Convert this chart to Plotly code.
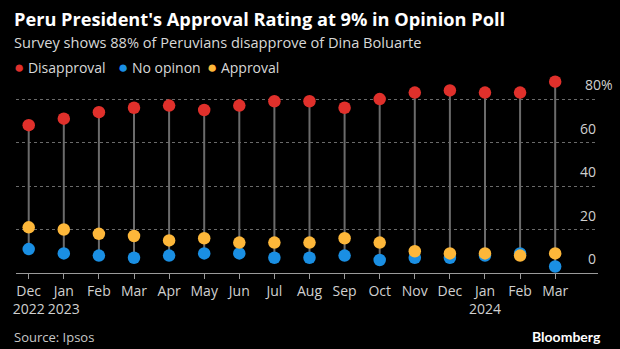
import plotly.graph_objects as go

months = ["Dec<br>2022", "Jan<br>2023", "Feb", "Mar", "Apr", "May", "Jun", "Jul", "Aug",
          "Sep", "Oct", "Nov", "Dec", "Jan<br>2024", "Feb", "Mar"]
disapproval = [68, 71, 74, 76, 77, 75, 77, 79, 79, 76, 80, 83, 84, 83, 83, 88]
no_opinion = [11, 9, 8, 7, 8, 9, 9, 7, 7, 8, 6, 7, 7, 8, 9, 3]
approval = [21, 20, 18, 17, 15, 16, 14, 14, 14, 16, 14, 10, 9, 9, 8, 9]
y_ticks = [0, 20, 40, 60, 80]
y_tick_text = ["0", "20", "40", "60", "80%"]

RED = "#e0302b"
BLUE = "#1a8fe3"
YELLOW = "#fdb73a"
FONT = "Open Sans"
W, H = 620, 349

x = list(range(len(months)))

# stems from lowest dot to highest dot
sx, sy = [], []
for i in x:
    vals = [disapproval[i], no_opinion[i], approval[i]]
    sx += [i, i, None]
    sy += [min(vals), max(vals), None]

series = [("Disapproval", disapproval, RED), ("No opinon", no_opinion, BLUE),
          ("Approval", approval, YELLOW)]

fig = go.Figure()
fig.add_trace(go.Scatter(x=sx, y=sy, mode="lines", line=dict(color="#6b6b6b", width=2),
                         showlegend=False, hoverinfo="skip", cliponaxis=False))
for name, vals, col in series:
    fig.add_trace(go.Scatter(x=x, y=vals, mode="markers", name=name,
                             marker=dict(color=col, size=12.5, line=dict(width=0)),
                             showlegend=False, cliponaxis=False))

ann = []
# y tick labels (right side, above gridlines)
for v, t in zip(y_ticks, y_tick_text):
    pct = "%" in t
    ann.append(dict(x=1, xref="paper", y=v, yref="y", text=t, showarrow=False,
                    xanchor="left" if pct else "right", xshift=-15 if pct else 0,
                    yanchor="bottom", yshift=3,
                    font=dict(family=FONT, size=14, color="#d0d0d0")))

ML, MR, MT, MB = 16, 22, 73, 76
PW, PH = W - ML - MR, H - MT - MB

def px(px_x, px_y, text, size, color, anchor="left", family=FONT):
    return dict(x=(px_x - ML) / PW, y=1 - (px_y - MT) / PH, xref="paper", yref="paper",
                text=text, showarrow=False, xanchor=anchor, yanchor="middle",
                font=dict(family=family, size=size, color=color))

ann.append(px(12, 19, "<b>Peru President's Approval Rating at 9% in Opinion Poll</b>", 18.2,
              "#ffffff"))
ann.append(px(12, 42, "Survey shows 88% of Peruvians disapprove of Dina Boluarte", 14.6,
              "#d8d8d8"))
leg_x = [12, 116, 205]
for (name, vals, col), lx in zip(series, leg_x):
    ann.append(px(lx, 66, f"<span style='color:{col};font-size:17px'>●</span> {name}", 14,
                  "#d8d8d8"))
ann.append(px(12, 337, "Source: Ipsos", 13, "#c8c8c8"))
ann.append(px(603, 336, "<b>Bloomberg</b>", 14, "#ffffff", anchor="right", family="Lato"))

fig.update_layout(
    width=W, height=H,
    paper_bgcolor="#000000", plot_bgcolor="#000000",
    margin=dict(l=ML, r=MR, t=MT, b=MB, autoexpand=False),
    showlegend=False,
    xaxis=dict(range=[-0.362, 16.22], tickvals=x, ticktext=months, showgrid=False,
               zeroline=False, showline=True, linecolor="#9a9a9a", linewidth=1,
               ticks="outside", ticklen=5, tickcolor="#9a9a9a", tickwidth=1,
               tickfont=dict(family=FONT, size=14, color="#d0d0d0")),
    yaxis=dict(range=[0, 92], tickvals=y_ticks[1:], showticklabels=False,
               showgrid=True, gridcolor="#6a6a6a", griddash="dot", gridwidth=1,
               zeroline=False, showline=False),
    annotations=ann,
)

fig.write_html("out.html")
